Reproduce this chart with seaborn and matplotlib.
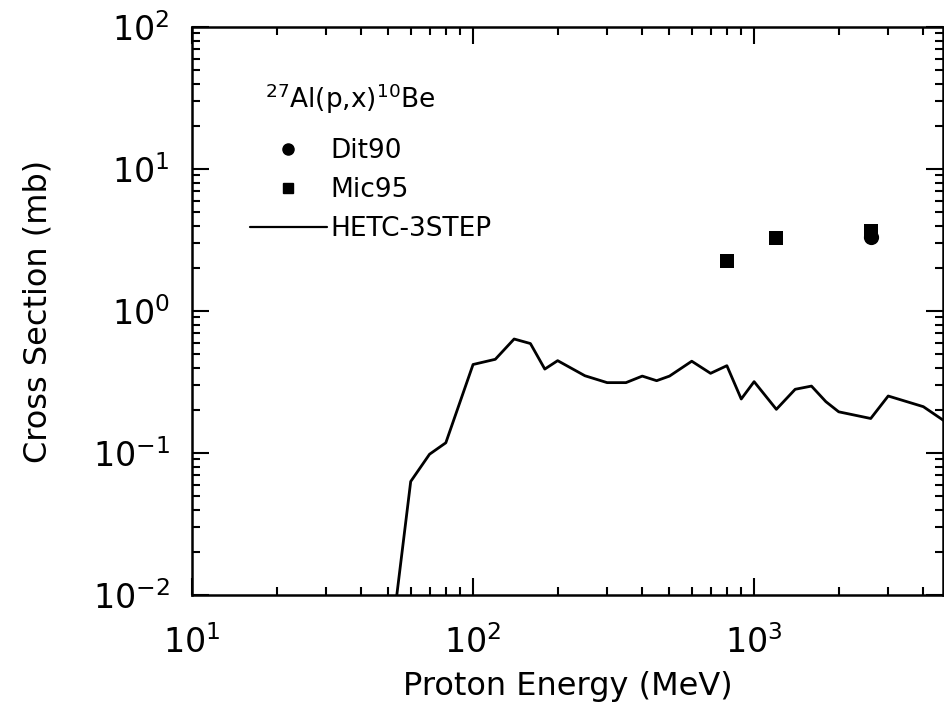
import matplotlib
matplotlib.use("Agg")
import matplotlib.pyplot as plt
import seaborn as sns
from matplotlib.lines import Line2D

# HETC-3STEP calculation
hetc_energy = [50, 60, 70, 80, 100, 120, 140, 160, 180, 200, 250, 300, 350, 400, 450,
               500, 600, 700, 800, 900, 1000, 1200, 1400, 1600, 1800, 2000, 2600, 3000,
               4000, 5000]
hetc_xs = [0.0033, 0.063, 0.098, 0.118, 0.42, 0.457, 0.635, 0.59, 0.39, 0.447, 0.35,
           0.313, 0.313, 0.348, 0.323, 0.348, 0.443, 0.364, 0.412, 0.24, 0.318, 0.203,
           0.281, 0.296, 0.23, 0.195, 0.175, 0.252, 0.212, 0.157]

# measurements
dit90_energy = [2600]
dit90_xs = [3.3]
mic95_energy = [800, 1200, 2600]
mic95_xs = [2.25, 3.25, 3.65]

sns.set_style("ticks")
plt.rcParams["font.family"] = ["DejaVu Sans"]
plt.rcParams["axes.unicode_minus"] = False
plt.rcParams["text.color"] = "black"
plt.rcParams["axes.labelcolor"] = "black"
plt.rcParams["xtick.color"] = "black"
plt.rcParams["ytick.color"] = "black"
plt.rcParams["axes.edgecolor"] = "black"

fig = plt.figure(figsize=(9.44, 7.08), dpi=100)
ax = fig.add_axes([192 / 944, 1 - 595 / 708, 751 / 944, 568 / 708])
ax.set_xscale("log")
ax.set_yscale("log")

sns.lineplot(x=hetc_energy, y=hetc_xs, ax=ax, color="black", linewidth=2.0,
             estimator=None, sort=False)
sns.scatterplot(x=mic95_energy, y=mic95_xs, ax=ax, marker="s", s=110, color="black",
                edgecolor="black", linewidth=0)
sns.scatterplot(x=dit90_energy, y=dit90_xs, ax=ax, marker="o", s=120, color="black",
                edgecolor="black", linewidth=0)

ax.set_xlim(10, 4700)
ax.set_ylim(1e-2, 1e2)

for s in ax.spines.values():
    s.set_linewidth(1.8)
    s.set_color("black")
    s.set_visible(True)
ax.tick_params(which="both", direction="in", top=True, right=True, width=1.5)
ax.tick_params(which="major", length=12, labelsize=24)
ax.tick_params(which="minor", length=6)
ax.tick_params(axis="x", pad=22)
ax.tick_params(axis="y", pad=16)

ax.set_xlabel("Proton Energy (MeV)", fontsize=23, labelpad=8)
ax.set_ylabel("Cross Section (mb)", fontsize=23, labelpad=28)

ax.text((265 - 192) / 751, (595 - 108) / 568, r"$^{27}$Al(p,x)$^{10}$Be",
        transform=ax.transAxes, fontsize=19, ha="left", va="baseline")

handles = [
    Line2D([], [], marker="o", color="black", linestyle="none", markersize=8),
    Line2D([], [], marker="s", color="black", linestyle="none", markersize=7.5),
    Line2D([], [], color="black", linewidth=1.6),
]
ax.legend(handles, ["Dit90", "Mic95", "HETC-3STEP"], loc="upper left",
          bbox_to_anchor=((250 - 192) / 751, (595 - 138) / 568), frameon=False,
          fontsize=19, borderpad=0, borderaxespad=0, handlelength=2.9,
          handletextpad=0.15, labelspacing=0.5)

fig.savefig("out.png", dpi=100)
